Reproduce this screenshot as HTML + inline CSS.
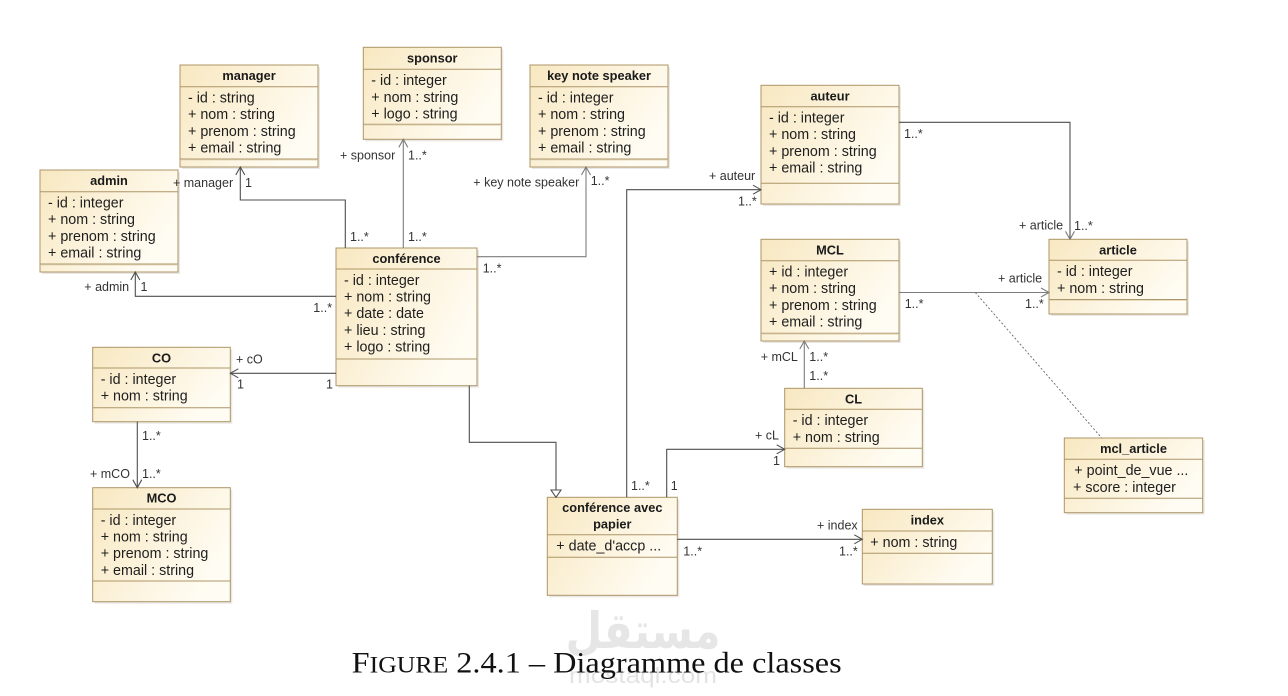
<!DOCTYPE html>
<html>
<head>
<meta charset="utf-8">
<style>
  html,body{margin:0;padding:0;background:#ffffff;}
  body{width:1288px;height:696px;overflow:hidden;}
  svg{display:block;}
  .h{font-family:"Liberation Sans",Arial,sans-serif;font-weight:bold;font-size:12.8px;fill:#1a1a1a;text-anchor:middle;}
  .a{font-family:"Liberation Sans",Arial,sans-serif;font-size:14.3px;fill:#1e1e1e;}
  .l{font-family:"Liberation Sans",Arial,sans-serif;font-size:12.5px;fill:#333;}
  .bx{fill:url(#g);stroke:#ad9667;stroke-width:1;}
  .sh{fill:#d9d6cf;opacity:.55;}
  .dv{stroke:#ad9667;stroke-width:1;}
  .dv2{stroke:#e8dcc0;stroke-width:1;}
  .c{fill:none;stroke:#4f4f4f;stroke-width:1.1;}
  .cg{fill:none;stroke:#7d7d7d;stroke-width:1.1;}
</style>
</head>
<body>
<svg width="1288" height="696" viewBox="0 0 1288 696" xmlns="http://www.w3.org/2000/svg">
  <defs>
    <linearGradient id="g" x1="0" y1="0" x2="1" y2="0.5">
      <stop offset="0" stop-color="#f8e8c1"/>
      <stop offset="1" stop-color="#fffcf3"/>
    </linearGradient>
  </defs>
  <rect width="1288" height="696" fill="#ffffff"/>

  <!-- watermark -->
  <text x="643" y="648" text-anchor="middle" font-family="DejaVu Sans, sans-serif" font-weight="bold" font-size="50" fill="#e6e6e6" textLength="155" lengthAdjust="spacingAndGlyphs">مستقل</text>
  <text x="643" y="683" text-anchor="middle" font-family="Liberation Sans, sans-serif" font-size="22" fill="#e3e3e3" textLength="148" lengthAdjust="spacingAndGlyphs">mostaql.com</text>

  <!-- ============ CLASSES ============ -->
  <!-- manager -->
  <rect class="sh" x="182" y="67" width="138" height="102"/>
  <rect class="bx" x="180" y="65" width="138" height="102"/>
  <line class="dv" x1="180" y1="86.7" x2="318" y2="86.7"/>
  <line class="dv" x1="180" y1="159" x2="318" y2="159"/>
  <line class="dv2" x1="181" y1="160" x2="317" y2="160"/>
  <text class="h" x="249" y="80">manager</text>
  <text class="a" x="188" y="102.5">- id : string</text>
  <text class="a" x="188" y="119.2">+ nom : string</text>
  <text class="a" x="188" y="135.9">+ prenom : string</text>
  <text class="a" x="188" y="152.6">+ email : string</text>

  <!-- sponsor -->
  <rect class="sh" x="365.3" y="49.3" width="138" height="92"/>
  <rect class="bx" x="363.3" y="47.3" width="138" height="92"/>
  <line class="dv" x1="363.3" y1="69.3" x2="501.3" y2="69.3"/>
  <line class="dv" x1="363.3" y1="124.3" x2="501.3" y2="124.3"/>
  <line class="dv2" x1="364.3" y1="125.3" x2="500.3" y2="125.3"/>
  <text class="h" x="432.3" y="62.3">sponsor</text>
  <text class="a" x="371.3" y="85.1">- id : integer</text>
  <text class="a" x="371.3" y="101.8">+ nom : string</text>
  <text class="a" x="371.3" y="118.5">+ logo : string</text>

  <!-- key note speaker -->
  <rect class="sh" x="532" y="67" width="138" height="102"/>
  <rect class="bx" x="530" y="65" width="138" height="102"/>
  <line class="dv" x1="530" y1="86.7" x2="668" y2="86.7"/>
  <line class="dv" x1="530" y1="159" x2="668" y2="159"/>
  <line class="dv2" x1="531" y1="160" x2="667" y2="160"/>
  <text class="h" x="599" y="80">key note speaker</text>
  <text class="a" x="538" y="102.5">- id : integer</text>
  <text class="a" x="538" y="119.2">+ nom : string</text>
  <text class="a" x="538" y="135.9">+ prenom : string</text>
  <text class="a" x="538" y="152.6">+ email : string</text>

  <!-- admin -->
  <rect class="sh" x="42" y="172" width="138" height="102"/>
  <rect class="bx" x="40" y="170" width="138" height="102"/>
  <line class="dv" x1="40" y1="191.7" x2="178" y2="191.7"/>
  <line class="dv" x1="40" y1="264" x2="178" y2="264"/>
  <line class="dv2" x1="41" y1="265" x2="177" y2="265"/>
  <text class="h" x="109" y="185">admin</text>
  <text class="a" x="48" y="207.5">- id : integer</text>
  <text class="a" x="48" y="224.2">+ nom : string</text>
  <text class="a" x="48" y="240.9">+ prenom : string</text>
  <text class="a" x="48" y="257.6">+ email : string</text>

  <!-- conférence -->
  <rect class="sh" x="338" y="250" width="141" height="137.7"/>
  <rect class="bx" x="336" y="248" width="141" height="137.7"/>
  <line class="dv" x1="336" y1="269" x2="477" y2="269"/>
  <line class="dv" x1="336" y1="359" x2="477" y2="359"/>
  <text class="h" x="406.5" y="263">conférence</text>
  <text class="a" x="344" y="284.8">- id : integer</text>
  <text class="a" x="344" y="301.5">+ nom : string</text>
  <text class="a" x="344" y="318.2">+ date : date</text>
  <text class="a" x="344" y="334.9">+ lieu : string</text>
  <text class="a" x="344" y="351.6">+ logo : string</text>

  <!-- auteur -->
  <rect class="sh" x="763" y="87.3" width="138" height="118.7"/>
  <rect class="bx" x="761" y="85.3" width="138" height="118.7"/>
  <line class="dv" x1="761" y1="106.7" x2="899" y2="106.7"/>
  <line class="dv" x1="761" y1="183.3" x2="899" y2="183.3"/>
  <text class="h" x="830" y="100.3">auteur</text>
  <text class="a" x="769" y="122.5">- id : integer</text>
  <text class="a" x="769" y="139.2">+ nom : string</text>
  <text class="a" x="769" y="155.9">+ prenom : string</text>
  <text class="a" x="769" y="172.6">+ email : string</text>

  <!-- MCL -->
  <rect class="sh" x="763" y="241.3" width="138" height="101.7"/>
  <rect class="bx" x="761" y="239.3" width="138" height="101.7"/>
  <line class="dv" x1="761" y1="260.7" x2="899" y2="260.7"/>
  <line class="dv" x1="761" y1="333.3" x2="899" y2="333.3"/>
  <line class="dv2" x1="762" y1="334.3" x2="898" y2="334.3"/>
  <text class="h" x="830" y="254.3">MCL</text>
  <text class="a" x="769" y="276.5">+ id : integer</text>
  <text class="a" x="769" y="293.2">+ nom : string</text>
  <text class="a" x="769" y="309.9">+ prenom : string</text>
  <text class="a" x="769" y="326.6">+ email : string</text>

  <!-- article -->
  <rect class="sh" x="1051" y="241.3" width="138" height="74.7"/>
  <rect class="bx" x="1049" y="239.3" width="138" height="74.7"/>
  <line class="dv" x1="1049" y1="260.3" x2="1187" y2="260.3"/>
  <line class="dv" x1="1049" y1="299.5" x2="1187" y2="299.5"/>
  <line class="dv2" x1="1050" y1="300.5" x2="1186" y2="300.5"/>
  <text class="h" x="1118" y="254.3">article</text>
  <text class="a" x="1057" y="276.1">- id : integer</text>
  <text class="a" x="1057" y="292.8">+ nom : string</text>

  <!-- CO -->
  <rect class="sh" x="94.7" y="349.3" width="137.6" height="74.4"/>
  <rect class="bx" x="92.7" y="347.3" width="137.6" height="74.4"/>
  <line class="dv" x1="92.7" y1="368" x2="230.3" y2="368"/>
  <line class="dv" x1="92.7" y1="407.7" x2="230.3" y2="407.7"/>
  <text class="h" x="161.5" y="362.3">CO</text>
  <text class="a" x="100.7" y="383.8">- id : integer</text>
  <text class="a" x="100.7" y="400.5">+ nom : string</text>

  <!-- MCO -->
  <rect class="sh" x="94.7" y="489.7" width="137.6" height="114"/>
  <rect class="bx" x="92.7" y="487.7" width="137.6" height="114"/>
  <line class="dv" x1="92.7" y1="509" x2="230.3" y2="509"/>
  <line class="dv" x1="92.7" y1="581" x2="230.3" y2="581"/>
  <text class="h" x="161.5" y="502.7">MCO</text>
  <text class="a" x="100.7" y="524.8">- id : integer</text>
  <text class="a" x="100.7" y="541.5">+ nom : string</text>
  <text class="a" x="100.7" y="558.2">+ prenom : string</text>
  <text class="a" x="100.7" y="574.9">+ email : string</text>

  <!-- CL -->
  <rect class="sh" x="786.7" y="390.3" width="137.6" height="78.4"/>
  <rect class="bx" x="784.7" y="388.3" width="137.6" height="78.4"/>
  <line class="dv" x1="784.7" y1="409.3" x2="922.3" y2="409.3"/>
  <line class="dv" x1="784.7" y1="448.3" x2="922.3" y2="448.3"/>
  <text class="h" x="853.5" y="403.3">CL</text>
  <text class="a" x="792.7" y="425.1">- id : integer</text>
  <text class="a" x="792.7" y="441.8">+ nom : string</text>

  <!-- mcl_article -->
  <rect class="sh" x="1066.3" y="440" width="138.4" height="74.7"/>
  <rect class="bx" x="1064.3" y="438" width="138.4" height="74.7"/>
  <line class="dv" x1="1064.3" y1="459.3" x2="1202.7" y2="459.3"/>
  <line class="dv" x1="1064.3" y1="498.3" x2="1202.7" y2="498.3"/>
  <text class="h" x="1133.5" y="453">mcl_article</text>
  <text class="a" x="1074.3" y="475.1">+ point_de_vue ...</text>
  <text class="a" x="1073" y="491.8">+ score : integer</text>

  <!-- conférence avec papier -->
  <rect class="sh" x="549.3" y="499.3" width="130" height="98"/>
  <rect class="bx" x="547.3" y="497.3" width="130" height="98"/>
  <line class="dv" x1="547.3" y1="534.7" x2="677.3" y2="534.7"/>
  <line class="dv" x1="547.3" y1="557.3" x2="677.3" y2="557.3"/>
  <text class="h" x="612.3" y="512">conférence avec</text>
  <text class="h" x="612.3" y="528.5">papier</text>
  <text class="a" x="556.3" y="550.5">+ date_d'accp ...</text>

  <!-- index -->
  <rect class="sh" x="864.3" y="511.3" width="130" height="74.7"/>
  <rect class="bx" x="862.3" y="509.3" width="130" height="74.7"/>
  <line class="dv" x1="862.3" y1="531" x2="992.3" y2="531"/>
  <line class="dv" x1="862.3" y1="553.3" x2="992.3" y2="553.3"/>
  <text class="h" x="927.3" y="524.5">index</text>
  <text class="a" x="870.3" y="547">+ nom : string</text>

  <!-- ============ CONNECTORS ============ -->
  <!-- conference -> manager -->
  <polyline class="c" points="345.3,248 345.3,200 240.3,200 240.3,167"/>
  <path class="c" d="M235.8,175 L240.3,167 L244.8,175"/>
  <text class="l" x="173" y="187">+ manager</text>
  <text class="l" x="245" y="187">1</text>
  <text class="l" x="350" y="241">1..*</text>

  <!-- conference -> sponsor -->
  <line class="cg" x1="403.3" y1="248" x2="403.3" y2="139.3"/>
  <path class="cg" d="M398.8,147.3 L403.3,139.3 L407.8,147.3"/>
  <text class="l" x="340" y="159.5">+ sponsor</text>
  <text class="l" x="408" y="159.5">1..*</text>
  <text class="l" x="408" y="241">1..*</text>

  <!-- conference -> key note speaker -->
  <polyline class="cg" points="477,256.7 586,256.7 586,167"/>
  <path class="cg" d="M581.5,175 L586,167 L590.5,175"/>
  <text class="l" x="473.3" y="186.5">+ key note speaker</text>
  <text class="l" x="590.7" y="185">1..*</text>
  <text class="l" x="482.7" y="272.5">1..*</text>

  <!-- conference -> admin -->
  <polyline class="c" points="336,296.3 135.3,296.3 135.3,272"/>
  <path class="c" d="M130.8,280 L135.3,272 L139.8,280"/>
  <text class="l" x="84.3" y="291">+ admin</text>
  <text class="l" x="140.5" y="291">1</text>
  <text class="l" x="313.3" y="312">1..*</text>

  <!-- conference -> CO -->
  <line class="c" x1="336" y1="373.3" x2="230.3" y2="373.3"/>
  <path class="c" d="M238.3,368.8 L230.3,373.3 L238.3,377.8"/>
  <text class="l" x="236" y="363.5">+ cO</text>
  <text class="l" x="237" y="388.5">1</text>
  <text class="l" x="326" y="388.5">1</text>

  <!-- CO -> MCO -->
  <line class="c" x1="137.3" y1="421.7" x2="137.3" y2="487.7"/>
  <path class="c" d="M132.8,479.7 L137.3,487.7 L141.8,479.7"/>
  <text class="l" x="142" y="440">1..*</text>
  <text class="l" x="90" y="478">+ mCO</text>
  <text class="l" x="142" y="478">1..*</text>

  <!-- generalization -->
  <polyline class="c" points="469.3,385.7 469.3,442.3 556,442.3 556,490"/>
  <path d="M551,490 L561,490 L556,497.3 Z" fill="#ffffff" stroke="#4f4f4f" stroke-width="1.1"/>

  <!-- cap -> auteur -->
  <polyline class="c" points="626.7,497.3 626.7,189.7 761,189.7"/>
  <path class="c" d="M753,185.2 L761,189.7 L753,194.2"/>
  <text class="l" x="709" y="180">+ auteur</text>
  <text class="l" x="738" y="205.5">1..*</text>
  <text class="l" x="631" y="490">1..*</text>

  <!-- cap -> CL -->
  <polyline class="c" points="666.7,497.3 666.7,449.3 784.7,449.3"/>
  <path class="c" d="M776.7,444.8 L784.7,449.3 L776.7,453.8"/>
  <text class="l" x="755" y="439.5">+ cL</text>
  <text class="l" x="773" y="465">1</text>
  <text class="l" x="670.7" y="490">1</text>

  <!-- cap -> index -->
  <line class="c" x1="677.3" y1="539.3" x2="862.3" y2="539.3"/>
  <path class="c" d="M854.3,534.8 L862.3,539.3 L854.3,543.8"/>
  <text class="l" x="817" y="529.5">+ index</text>
  <text class="l" x="839" y="555.5">1..*</text>
  <text class="l" x="683.3" y="555.5">1..*</text>

  <!-- CL -> MCL -->
  <line class="cg" x1="804.3" y1="388.3" x2="804.3" y2="341"/>
  <path class="cg" d="M799.8,349 L804.3,341 L808.8,349"/>
  <text class="l" x="760.7" y="361">+ mCL</text>
  <text class="l" x="809.3" y="361">1..*</text>
  <text class="l" x="809.3" y="380">1..*</text>

  <!-- auteur -> article -->
  <polyline class="c" points="899,122.3 1070,122.3 1070,239.3"/>
  <path class="cg" d="M1065.5,231.3 L1070,239.3 L1074.5,231.3"/>
  <text class="l" x="904" y="138">1..*</text>
  <text class="l" x="1019" y="229.5">+ article</text>
  <text class="l" x="1074" y="230">1..*</text>

  <!-- MCL -> article -->
  <line class="cg" x1="899" y1="292.5" x2="1049" y2="292.5"/>
  <path class="cg" d="M1041,288 L1049,292.5 L1041,297"/>
  <text class="l" x="904.7" y="308">1..*</text>
  <text class="l" x="998" y="282.7">+ article</text>
  <text class="l" x="1025" y="308">1..*</text>

  <!-- association class dashed -->
  <line x1="975.3" y1="292.5" x2="1101.7" y2="438" stroke="#666" stroke-width="0.9" stroke-dasharray="2,2"/>

  <!-- caption -->
  <text x="351.7" y="672.7" font-family="Liberation Serif, serif" font-size="29.5" fill="#111" textLength="490" lengthAdjust="spacingAndGlyphs">F<tspan font-size="23.5">IGURE</tspan> 2.4.1 – Diagramme de classes</text>
</svg>
</body>
</html>
